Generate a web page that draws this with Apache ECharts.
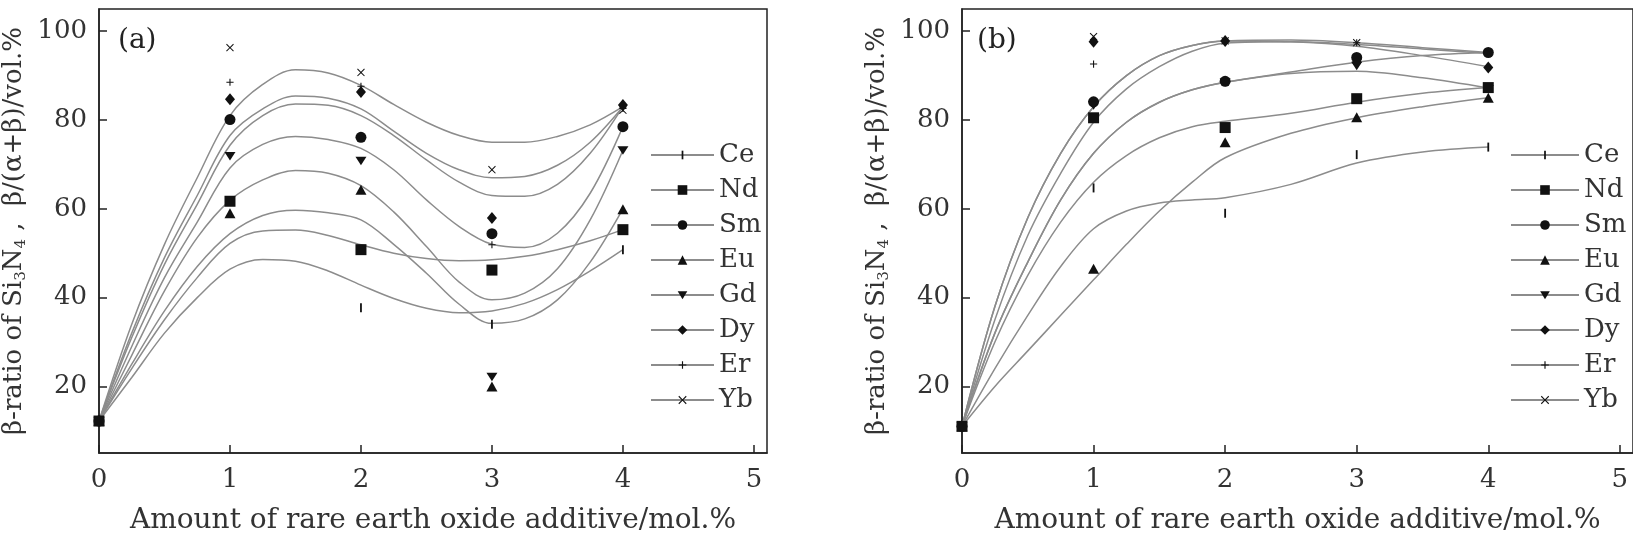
<!DOCTYPE html>
<html>
<head>
<meta charset="utf-8">
<script src="https://cdn.jsdelivr.net/npm/echarts@6/dist/echarts.min.js"></script>
<style>
html, body { margin: 0; padding: 0; background: #fff; }
#main { width: 1633px; height: 540px; }
</style>
</head>
<body>
<div id="main"></div>
<script>
// measured points, x = amount of additive (mol.%)
var elements = ['Ce', 'Nd', 'Sm', 'Eu', 'Gd', 'Dy', 'Er', 'Yb'];
var xPts = [0, 1, 2, 3, 4];
var xTicks = [0, 1, 2, 3, 4, 5];
var yTicks = [20, 40, 60, 80, 100];

// (a) points
var aCe = [12.2, null, 37.7, 34.0, 50.8];
var aNd = [12.2, 61.7, 50.8, 46.2, 55.3];
var aSm = [12.2, 80.1, 76.1, 54.4, 78.5];
var aEu = [12.2, 59.0, 64.3, 20.0, 59.9];
var aGd = [12.2, 71.9, 70.8, 22.2, 73.2];
var aDy = [12.2, 84.7, 86.3, 57.9, 83.4];
var aEr = [12.2, 88.5, 87.6, 51.9, 82.6];
var aYb = [12.2, 96.3, 90.7, 68.8, 82.2];

// (b) points
var bCe = [11.0, 64.7, 59.0, 72.2, 73.9];
var bNd = [11.0, 80.5, 78.3, 84.8, 87.3];
var bSm = [11.0, 84.1, 88.7, 94.1, 95.2];
var bEu = [11.0, 46.5, 75.0, 80.6, 85.0];
var bGd = [11.0, 83.3, 88.5, 92.2, 87.0];
var bDy = [11.0, 97.6, 97.8, 93.0, 91.8];
var bEr = [11.0, 92.6, 97.8, 97.4, 95.2];
var bYb = [11.0, 98.8, 97.8, 97.4, 95.2];

// fitted curves
var curveXA = [0, 0.25, 0.5, 0.75, 1, 1.25, 1.5, 1.75, 2, 2.25, 2.5, 2.75, 3, 3.25, 3.5, 3.75, 4];
var fitACe = [12.2, 22, 32, 40, 46.4, 48.6, 48.2, 46, 42.8, 39.8, 37.6, 36.6, 37, 38.7, 41.8, 46, 50.8];
var fitANd = [12.2, 24, 35, 44.5, 52.2, 55, 55.2, 54, 51.9, 50, 48.8, 48.3, 48.5, 49.3, 50.8, 52.8, 55.3];
var fitASm = [12.2, 29, 44.5, 57, 69.2, 74.5, 76.3, 75.6, 73.6, 68.8, 62, 56, 52, 51.3, 54.5, 63.5, 78.5];
var fitAEu = [12.2, 25, 37, 47, 54.4, 58.5, 59.7, 59.1, 57.5, 52, 45.5, 38.5, 34.2, 35.2, 39.5, 48, 60];
var fitAGd = [12.2, 27, 41.5, 53.5, 61.9, 66.5, 68.6, 68, 65.2, 59.3, 51.5, 43.5, 39.5, 41, 46.5, 57.5, 73.2];
var fitADy = [12.2, 32, 49, 63, 76.5, 82.5, 85.4, 84.9, 82.5, 77.5, 72.5, 68.8, 67, 67.3, 69.8, 75, 83];
var fitAEr = [12.2, 31, 47.5, 61, 74.3, 81, 83.6, 83.3, 81, 76.5, 71, 66, 63, 62.8, 65.5, 72.5, 83];
var fitAYb = [12.2, 34, 52, 67, 81, 88, 91.3, 90.6, 87.8, 83.5, 79.5, 76.5, 75, 75, 76.3, 78.9, 83];

var curveXB = [0, 0.25, 0.5, 0.75, 1, 1.25, 1.5, 1.75, 2, 2.5, 3, 3.5, 4];
var fitBCe = [11, 24, 36, 47, 55.5, 59.5, 61.3, 62, 62.5, 65.5, 70.3, 72.8, 73.9];
var fitBNd = [11, 30, 45, 57, 66, 72, 76, 78.5, 79.7, 81.5, 84, 86, 87.3];
var fitBSm = [11, 32, 48, 62, 72.5, 79.5, 84, 86.8, 88.5, 90.8, 93, 94.5, 95.2];
var fitBEu = [11, 20, 28, 36, 44, 52, 59.5, 66, 71.5, 77, 80.5, 83, 85];
var fitBGd = [11, 32, 48, 62, 72.5, 79.5, 84, 86.8, 88.5, 90.5, 91, 89.5, 87.2];
var fitBDy = [11, 38, 58, 72.5, 83, 90, 94.5, 96.8, 97.8, 97.6, 96.6, 94.5, 92];
var fitBEr = [11, 35, 54, 68, 79.5, 87, 92, 95.5, 97.3, 97.6, 97, 96, 95];
var fitBYb = [11, 38, 58, 72.5, 83, 90, 94.5, 96.8, 97.8, 98, 97.4, 96.3, 95.2];

var ptsA = [aCe, aNd, aSm, aEu, aGd, aDy, aEr, aYb];
var ptsB = [bCe, bNd, bSm, bEu, bGd, bDy, bEr, bYb];
var fitA = [fitACe, fitANd, fitASm, fitAEu, fitAGd, fitADy, fitAEr, fitAYb];
var fitB = [fitBCe, fitBNd, fitBSm, fitBEu, fitBGd, fitBDy, fitBEr, fitBYb];

// marker shapes (paths padded to a 10x10 box)
var symbols = [
    'path://M0,0M10,10M4.1,0.5L5.9,0.5L5.9,9.5L4.1,9.5Z',
    'rect',
    'circle',
    'triangle',
    'path://M0,0M10,10M0,1L10,1L5,9.5Z',
    'diamond',
    'path://M0,0M10,10M4.4,1L5.6,1L5.6,4.4L9,4.4L9,5.6L5.6,5.6L5.6,9L4.4,9L4.4,5.6L1,5.6L1,4.4L4.4,4.4Z',
    'path://M0,0M10,10M1.5,0.7L5,4.2L8.5,0.7L9.3,1.5L5.8,5L9.3,8.5L8.5,9.3L5,5.8L1.5,9.3L0.7,8.5L4.2,5L0.7,1.5Z'
];
var sizes = [[10, 10], [11, 11], [11, 11], [11, 10], [11, 10], [10, 12], [9, 9], [9, 9]];

var FONT = 'DejaVu Serif';
var LINE_GREY = '#8c8c8c';

function pairs(xs, ys) {
    var out = [];
    for (var i = 0; i < xs.length; i++) {
        if (ys[i] !== null) out.push([xs[i], ys[i]]);
    }
    return out;
}

var series = [];
[fitA, fitB].forEach(function (fits, p) {
    var cx = p === 0 ? curveXA : curveXB;
    elements.forEach(function (name, i) {
        series.push({
            name: name,
            type: 'line',
            xAxisIndex: p,
            yAxisIndex: p,
            data: pairs(cx, fits[i]),
            smooth: 0.35,
            symbol: symbols[i],
            showSymbol: false,
            silent: true,
            lineStyle: { color: LINE_GREY, width: 1.5 },
            itemStyle: { color: '#111' },
            z: 2
        });
    });
});
[ptsA, ptsB].forEach(function (pts, p) {
    elements.forEach(function (name, i) {
        series.push({
            name: name,
            type: 'scatter',
            xAxisIndex: p,
            yAxisIndex: p,
            data: pairs(xPts, pts[i]),
            symbol: symbols[i],
            symbolSize: sizes[i],
            itemStyle: { color: '#111', opacity: 1 },
            z: name === 'Nd' ? 5 : 3
        });
    });
});

function xAxisFor(p) {
    return {
        gridIndex: p,
        type: 'value',
        min: 0,
        max: 5.1,
        name: 'Amount of rare earth oxide additive/mol.%',
        nameLocation: 'middle',
        nameGap: 54,
        nameTextStyle: { fontFamily: FONT, fontSize: 28, color: '#333' },
        axisLine: { show: true, lineStyle: { color: '#222', width: 1.5 } },
        axisTick: { show: true, inside: true, length: 8, customValues: xTicks, lineStyle: { color: '#222', width: 1.5 } },
        axisLabel: { customValues: xTicks, margin: 14, fontFamily: FONT, fontSize: 26, color: '#333' },
        splitLine: { show: false }
    };
}

function yAxisFor(p) {
    return {
        gridIndex: p,
        type: 'value',
        min: 5,
        max: 105,
        name: 'β-ratio of Si{s|3}N{s|4} ,  β/(α+β)/vol.%',
        nameLocation: 'middle',
        nameGap: 70,
        nameTextStyle: {
            fontFamily: FONT, fontSize: 26, color: '#333',
            rich: {
                s: { fontFamily: FONT, fontSize: 15, color: '#333', verticalAlign: 'bottom', lineHeight: 30 }
            }
        },
        axisLine: { show: true, lineStyle: { color: '#222', width: 1.5 } },
        axisTick: { show: true, inside: true, length: 8, customValues: yTicks, lineStyle: { color: '#222', width: 1.5 } },
        axisLabel: { customValues: yTicks, margin: 12, fontFamily: FONT, fontSize: 26, color: '#333' },
        splitLine: { show: false }
    };
}

function legendFor(left, width) {
    return {
        data: elements,
        orient: 'vertical',
        left: left,
        top: 142,
        padding: 0,
        itemWidth: width,
        itemHeight: 12,
        itemGap: 9,
        selectedMode: false,
        textStyle: { fontFamily: FONT, fontSize: 26, color: '#333' }
    };
}

var chart = echarts.init(document.getElementById('main'));
var option = {
    backgroundColor: '#fff',
    animation: false,
    title: [
        { text: '(a)', left: 118, top: 27, padding: 0, textStyle: { fontFamily: FONT, fontWeight: 'normal', fontSize: 28, color: '#222' } },
        { text: '(b)', left: 977, top: 27, padding: 0, textStyle: { fontFamily: FONT, fontWeight: 'normal', fontSize: 28, color: '#222' } }
    ],
    legend: [legendFor(650, 63), legendFor(1510, 68)],
    grid: [
        { left: 96, top: 9, width: 671, height: 451, show: true, borderColor: '#222', borderWidth: 1.5, backgroundColor: 'transparent' },
        { left: 962, top: 9, width: 671, height: 451, show: true, borderColor: '#222', borderWidth: 1.5, backgroundColor: 'transparent' }
    ],
    xAxis: [xAxisFor(0), xAxisFor(1)],
    yAxis: [yAxisFor(0), yAxisFor(1)],
    series: series
};
chart.setOption(option);
</script>
</body>
</html>
